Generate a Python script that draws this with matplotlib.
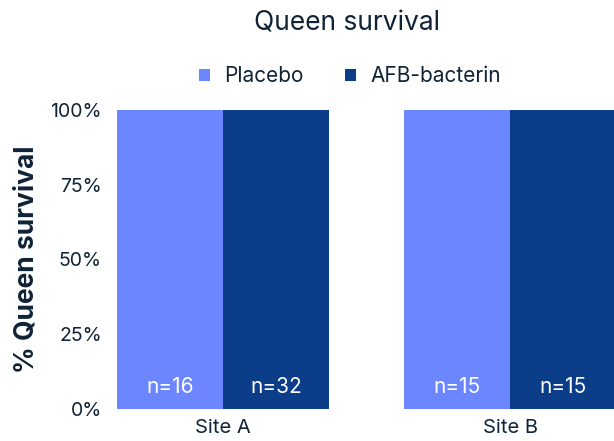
import matplotlib
matplotlib.use("Agg")
import matplotlib.pyplot as plt
import numpy as np
from matplotlib.ticker import FuncFormatter

sites = ["Site A", "Site B"]
series = ["Placebo", "AFB-bacterin"]
placebo = [100, 100]
afb = [100, 100]
n_placebo = [16, 15]
n_afb = [32, 15]
yticks = [0, 25, 50, 75, 100]

c_placebo = "#6C86FF"
c_afb = "#0B3D89"
txt = "#0F2236"

plt.rcParams['font.family'] = ['Inter', 'DejaVu Sans']

fig = plt.figure(figsize=(6.14, 4.41), dpi=100)
ax = fig.add_axes([117/614, 1-409/441, (614-117)/614, (409-110)/441])

x = np.arange(len(sites))
w = 0.37
b1 = ax.bar(x - w/2, placebo, width=w, color=c_placebo, label=series[0])
b2 = ax.bar(x + w/2, afb, width=w, color=c_afb, label=series[1])

for xi, n in zip(x - w/2, n_placebo):
    ax.text(xi, 7.5, f"n={n}", color="white", ha="center", va="center", fontsize=15)
for xi, n in zip(x + w/2, n_afb):
    ax.text(xi, 7.5, f"n={n}", color="white", ha="center", va="center", fontsize=15)

ax.set_xlim(-0.369, 1.362)
ax.set_ylim(0, 100)
ax.set_yticks(yticks)
ax.yaxis.set_major_formatter(FuncFormatter(lambda v, p: f"{int(v)}%"))
ax.set_xticks(x)
ax.set_xticklabels(sites)
for s in ax.spines.values():
    s.set_visible(False)
ax.tick_params(axis='both', length=0, colors=txt, labelsize=14)
ax.tick_params(axis='x', labelsize=14.5)
ax.tick_params(axis='y', pad=11)
ax.tick_params(axis='x', pad=7)
ax.set_ylabel("% Queen survival", fontsize=19, fontweight='bold', color=txt, labelpad=8)

fig.text(0.565, 1-23/441, "Queen survival", ha="center", va="center", fontsize=19, color=txt)
leg = fig.legend(handles=[b1, b2], labels=series, loc="center", bbox_to_anchor=(0.57, 1-76/441),
                 ncol=2, frameon=False, fontsize=15, handlelength=0.5, handleheight=0.5,
                 handletextpad=0.7, columnspacing=2.0, labelcolor=txt)

fig.savefig("out.png", dpi=100)
